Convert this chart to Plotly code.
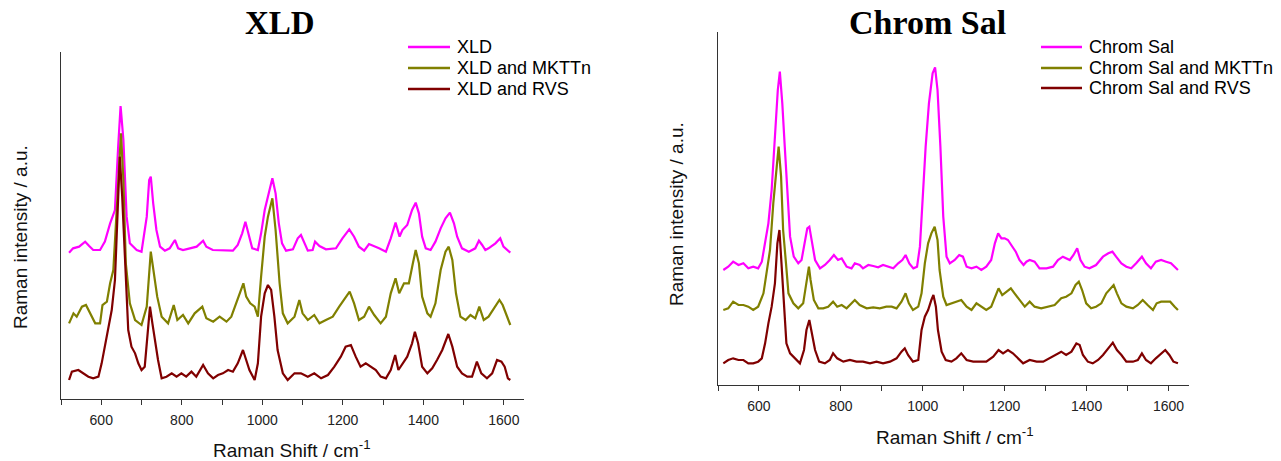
import plotly.graph_objects as go

W, H = 1281, 461

# ---------------- data: XLD panel ----------------
xld_wn = [520,530,545,560,570,580,597,609,622,634,642,648,655,663,671,688,700,713,719,723,
          729,737,746,758,770,783,791,803,820,837,853,861,877,902,927,939,950,958,967,975,
          989,997,1006,1014,1025,1033,1041,1049,1059,1076,1088,1096,1104,1113,1125,1131,1142,1158,1183,1199,
          1216,1228,1240,1253,1265,1278,1290,1307,1319,1331,1341,1348,1360,1372,1381,1389,1397,1406,1418,1430,
          1443,1455,1466,1476,1484,1496,1513,1529,1538,1546,1554,1562,1579,1591,1599,1616]
xld_int = [43.9,45.2,45.7,47.2,45.9,44.7,44.7,47.2,52.7,56.7,75.7,87.9,77.7,54.7,46.7,44.7,44.2,54.7,65.7,66.7,
           58.7,50.7,45.7,44.5,45.2,47.7,45.2,44.7,45.2,45.7,47.5,45.7,44.7,44.7,44.5,46.2,49.7,53.2,49.2,45.2,
           44.7,49.7,56.7,60.7,66.2,61.7,52.7,46.7,44.5,44.9,48.2,49.2,46.7,44.5,44.7,47.2,45.9,44.9,45.2,48.2,
           50.9,48.7,45.7,44.5,46.5,45.9,45.2,44.2,48.2,52.9,48.7,50.7,52.2,56.7,58.9,55.7,48.7,45.2,44.7,47.2,
           51.2,54.2,55.9,52.7,48.7,45.2,44.2,45.2,47.5,46.2,44.7,45.2,46.7,48.2,45.7,43.9]

xld_mk_wn = [520,531,539,552,562,572,585,597,603,614,622,630,638,644,649,655,661,671,684,700,
             713,723,731,739,750,766,780,789,803,816,832,851,861,878,894,911,923,935,945,953,
             960,970,981,989,997,1006,1014,1025,1033,1043,1051,1063,1080,1092,1100,1113,1129,1142,1158,1175,
             1191,1207,1217,1228,1240,1253,1265,1278,1294,1307,1319,1331,1340,1352,1364,1374,1381,1389,1397,1410,
             1418,1430,1443,1455,1463,1472,1481,1492,1505,1517,1529,1539,1550,1562,1579,1589,1597,1608,1616]
xld_mk_int = [22.7,25.7,24.7,27.7,28.2,25.7,22.7,22.7,28.2,29.2,34.7,38.7,55.7,70.7,79.7,65.7,40.7,28.7,23.7,22.2,
              27.7,44.2,36.7,30.7,24.7,22.7,28.2,23.7,25.2,22.7,25.7,27.7,24.2,23.2,24.7,23.2,24.7,28.7,31.7,34.7,
              30.7,28.7,27.7,24.7,36.7,48.7,54.7,60.2,50.7,34.7,25.7,22.7,24.7,29.7,25.7,23.7,25.2,22.7,23.7,24.7,
              27.7,30.7,32.2,28.7,23.7,24.7,27.7,25.2,22.7,24.7,31.7,36.2,31.7,34.7,34.7,40.7,44.7,40.7,30.7,25.7,
              24.7,28.7,38.7,44.2,45.7,41.7,31.7,24.7,23.7,25.2,24.2,27.7,23.7,24.7,27.7,29.7,28.2,24.7,22.2]

xld_rvs_wn = [520,527,543,556,568,580,593,601,609,618,626,634,641,646,652,659,667,675,684,692,
              700,708,715,721,727,733,741,750,762,775,787,799,811,824,836,853,865,878,890,902,
              915,927,939,952,960,968,981,989,997,1006,1014,1022,1030,1038,1051,1063,1080,1096,1113,1129,
              1146,1163,1179,1195,1207,1220,1232,1244,1257,1269,1282,1294,1307,1319,1330,1338,1348,1360,1372,1379,
              1387,1397,1410,1422,1434,1447,1462,1472,1484,1496,1509,1521,1533,1544,1558,1571,1583,1594,1602,1610,1616]
xld_rvs_int = [5.7,8.2,8.7,7.7,6.7,6.2,6.7,10.7,15.7,21.7,26.7,35.7,54.7,72.7,60.7,40.7,20.7,15.7,13.7,10.7,
               8.7,9.7,18.7,27.7,22.7,17.7,11.7,6.2,6.7,7.7,6.7,7.7,6.7,8.2,6.7,10.2,7.7,6.2,7.2,7.7,
               8.7,8.2,10.7,14.7,11.7,8.7,5.7,10.7,24.7,31.7,34.2,32.7,24.7,14.7,7.7,5.7,7.7,7.7,6.7,7.7,
               6.2,7.2,9.7,12.7,15.7,16.2,12.7,9.7,10.7,9.7,8.7,6.7,6.2,8.7,13.2,8.7,10.7,12.7,16.7,20.2,
               16.7,9.7,7.7,9.2,11.7,14.7,19.5,15.7,9.7,7.7,6.7,6.7,11.2,7.7,6.2,7.7,11.7,11.2,9.7,6.2,5.7]

# ---------------- data: Chrom Sal panel ----------------
cs_wn = [513,525,537,550,562,574,586,598,607,615,623,631,639,646,651,657,663,669,676,685,
         696,704,712,718,723,728,737,749,761,773,783,793,802,814,826,834,846,854,867,879,
         891,903,915,928,940,950,958,967,977,986,993,999,1007,1015,1024,1030,1036,1043,1050,1058,
         1066,1078,1089,1098,1107,1119,1131,1143,1155,1167,1176,1184,1192,1200,1208,1216,1227,1236,1246,1253,
         1261,1273,1285,1302,1318,1330,1342,1359,1368,1377,1385,1395,1407,1423,1440,1453,1463,1472,1485,1497,
         1509,1521,1535,1545,1557,1569,1582,1594,1606,1623]
cs_int = [34.5,35.5,37.0,36.0,36.5,35.0,35.5,35.0,37.0,42.5,48.5,58.5,76.5,88.5,94.0,84.5,71.5,58.5,44.5,38.5,
          36.5,37.5,42.5,47.0,47.5,43.5,37.5,35.0,36.0,37.5,39.0,37.5,38.0,35.5,35.0,36.5,36.0,35.0,36.0,35.7,
          35.3,36.0,35.5,35.0,36.5,37.5,39.0,36.5,35.0,35.5,41.5,54.5,71.5,84.5,93.5,95.3,88.5,71.5,50.5,38.5,
          36.5,37.5,39.0,38.5,35.5,35.0,35.5,34.5,35.5,37.5,42.5,45.5,44.0,44.0,43.5,42.0,40.0,37.5,36.0,37.0,
          37.5,37.0,35.0,35.0,35.5,37.5,38.5,37.5,39.0,41.0,37.5,35.5,35.0,36.0,38.5,39.5,40.0,38.5,36.5,35.5,
          35.0,36.5,38.5,36.5,35.0,37.0,37.5,37.0,36.5,34.5]

cs_mk_wn = [513,525,537,550,562,574,586,598,611,619,627,635,642,648,654,659,666,672,684,696,
            708,716,722,726,734,745,757,769,781,791,802,814,826,834,846,863,879,895,911,924,
            936,948,958,966,976,989,997,1005,1013,1021,1029,1036,1041,1050,1058,1070,1082,1094,1107,1119,
            1131,1143,1155,1167,1176,1185,1194,1204,1215,1224,1237,1249,1261,1273,1289,1306,1322,1338,1350,1363,
            1373,1381,1389,1399,1411,1423,1436,1448,1458,1466,1474,1485,1497,1513,1525,1537,1549,1562,1571,1582,
            1594,1604,1615,1623]
cs_mk_int = [22.5,23.0,25.0,24.0,24.0,23.5,22.5,23.5,27.5,33.5,40.5,54.5,64.5,71.5,62.5,46.5,36.5,27.5,24.5,23.0,
             24.5,30.5,35.5,31.5,25.5,23.0,23.0,23.5,25.0,23.5,24.0,23.0,24.5,25.5,24.0,23.0,23.3,23.0,23.5,23.5,
             23.0,25.0,27.5,24.5,22.5,23.5,27.5,36.5,42.5,45.5,47.5,43.5,34.5,26.5,24.0,24.5,25.0,25.5,23.5,22.5,
             24.5,23.5,22.5,23.5,26.5,29.0,27.0,28.0,29.0,27.5,25.5,23.5,25.0,23.5,23.0,23.5,24.0,26.0,26.5,27.5,
             30.0,31.0,28.5,24.5,23.0,23.5,24.5,27.5,29.0,30.0,27.5,24.5,23.5,23.0,24.0,25.5,24.0,22.5,24.5,25.0,
             25.0,25.0,23.5,22.5]

cs_rvs_wn = [513,525,537,550,562,574,586,598,607,615,623,631,639,645,650,654,661,667,676,688,
             700,710,716,723,729,737,747,761,773,781,791,806,822,838,854,871,887,903,920,936,
             948,956,964,976,989,997,1005,1013,1021,1026,1032,1037,1046,1056,1070,1082,1094,1107,1123,1140,
             1155,1172,1185,1196,1208,1220,1233,1245,1261,1278,1294,1310,1326,1338,1350,1363,1375,1383,1391,1403,
             1415,1428,1440,1452,1464,1474,1485,1497,1513,1525,1535,1545,1557,1569,1582,1592,1602,1612,1623]
cs_rvs_int = [6.5,7.5,8.0,7.5,7.5,6.5,6.5,7.0,8.0,12.5,18.5,23.5,30.5,42.5,46.5,38.5,24.5,12.5,9.5,8.0,
              6.5,10.5,16.5,19.5,15.5,10.5,7.0,6.5,7.5,9.5,8.0,7.0,7.5,7.0,7.0,6.5,7.0,6.5,7.0,8.0,
              10.0,11.0,9.0,7.0,7.5,16.5,20.5,22.5,25.5,27.0,23.5,16.5,10.0,7.5,7.0,8.0,9.5,7.5,7.0,7.0,
              7.0,8.5,10.5,9.5,10.5,9.5,8.0,6.5,7.5,7.0,7.0,8.0,9.0,10.0,9.0,10.0,12.5,12.0,9.0,7.0,
              6.5,7.5,9.0,11.0,12.7,10.5,9.0,7.0,7.0,7.5,9.5,7.5,6.5,8.0,9.5,10.5,9.0,7.0,6.5]

major_ticks = [600, 800, 1000, 1200, 1400, 1600]
major_labels = ["600", "800", "1000", "1200", "1400", "1600"]
minor_ticks = [500, 700, 900, 1100, 1300, 1500]
x_range = [500, 1650]

MAGENTA, OLIVE, MAROON = "#FF00FF", "#808000", "#800000"
SANS = "Liberation Sans, Arial, sans-serif"
SERIF = "Liberation Serif, Times New Roman, serif"


def px(x):
    return x / W


def py(y):
    return 1 - y / H


fig = go.Figure()
panels = [
    ([(xld_wn, xld_int, "XLD", MAGENTA),
      (xld_mk_wn, xld_mk_int, "XLD and MKTTn", OLIVE),
      (xld_rvs_wn, xld_rvs_int, "XLD and RVS", MAROON)], "x", "y", 408, 450, 455, [47, 68, 89]),
    ([(cs_wn, cs_int, "Chrom Sal", MAGENTA),
      (cs_mk_wn, cs_mk_int, "Chrom Sal and MKTTn", OLIVE),
      (cs_rvs_wn, cs_rvs_int, "Chrom Sal and RVS", MAROON)], "x2", "y2", 1041, 1082, 1087, [47, 68, 88]),
]
for series, xa, ya, lx0, lx1, tx, rows in panels:
    for (xs, ys, name, col), ry in zip(series, rows):
        fig.add_trace(go.Scatter(x=xs, y=ys, mode="lines", name=name, xaxis=xa, yaxis=ya,
                                 showlegend=False, line=dict(color=col, width=2.2)))
        fig.add_shape(type="line", xref="paper", yref="paper", x0=px(lx0), x1=px(lx1),
                      y0=py(ry), y1=py(ry), line=dict(color=col, width=2.6))
        fig.add_annotation(xref="paper", yref="paper", x=px(tx), y=py(ry), text=name,
                           showarrow=False, xanchor="left", yanchor="middle",
                           font=dict(family=SANS, size=18, color="#000000"))

axis_line = dict(showline=True, linecolor="#333333", linewidth=1.3, showgrid=False, zeroline=False)
xcommon = dict(range=x_range, tickmode="array", tickvals=major_ticks, ticktext=major_labels,
               ticks="outside", ticklen=5, tickwidth=1.2, tickcolor="#333333",
               minor=dict(tickmode="array", tickvals=minor_ticks, ticks="outside", ticklen=5,
                          tickwidth=1.2, tickcolor="#333333", showgrid=False),
               tickfont=dict(family=SANS, size=14, color="#222222"), ticklabelstandoff=3, **axis_line)
ycommon = dict(showticklabels=False, ticks="", **axis_line)

fig.update_layout(
    width=W, height=H, margin=dict(l=0, r=0, t=0, b=0),
    paper_bgcolor="white", plot_bgcolor="white",
    xaxis=dict(domain=[px(61), px(524)], anchor="y", **xcommon),
    yaxis=dict(domain=[py(399), py(52)], anchor="x", range=[0, 104.1], **ycommon),
    xaxis2=dict(domain=[px(718), px(1189)], anchor="y2", **xcommon),
    yaxis2=dict(domain=[py(385), py(32)], anchor="x2", range=[0, 105.9], **ycommon),
    showlegend=False,
)

annos = [
    dict(text="<b>XLD</b>", x=px(280), y=py(23), font=dict(family=SERIF, size=33, color="black")),
    dict(text="<b>Chrom Sal</b>", x=px(927), y=py(22), font=dict(family=SERIF, size=34, color="black")),
    dict(text="Raman Shift / cm<sup>-1</sup>", x=px(292), y=py(449), font=dict(family=SANS, size=19, color="#111111")),
    dict(text="Raman Shift / cm<sup>-1</sup>", x=px(955), y=py(436), font=dict(family=SANS, size=19, color="#111111")),
    dict(text="Raman intensity / a.u.", x=px(20), y=py(237), textangle=-90, font=dict(family=SANS, size=19, color="#111111")),
    dict(text="Raman intensity / a.u.", x=px(676), y=py(214), textangle=-90, font=dict(family=SANS, size=19, color="#111111")),
]
for a in annos:
    fig.add_annotation(xref="paper", yref="paper", showarrow=False, xanchor="center", yanchor="middle", **a)

fig.write_html("out.html")
